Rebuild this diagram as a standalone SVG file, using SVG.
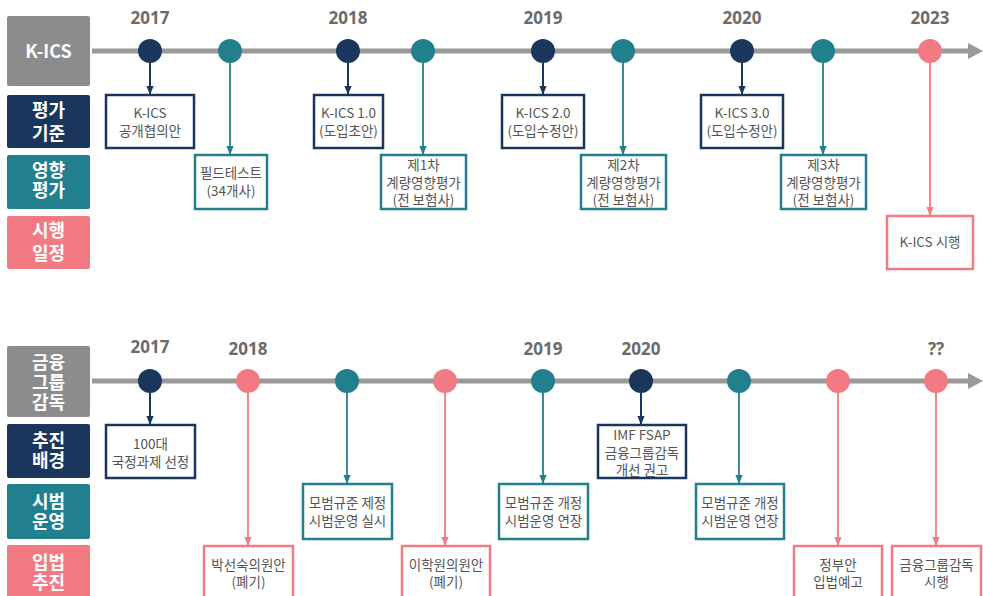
<svg xmlns="http://www.w3.org/2000/svg" width="983" height="596" viewBox="0 0 983 596">
<style>
.bg{fill:#ffffff}
.tl{stroke:#999999;stroke-width:5;fill:none}
.tlh{fill:#999999}
.lab{font-family:"Noto Sans CJK KR","Noto Sans",sans-serif;font-weight:bold;font-size:18px;fill:#ffffff;text-anchor:middle}
.yr{font-family:"Noto Sans","Noto Sans CJK KR",sans-serif;font-weight:bold;font-size:17px;fill:#6b6b6b;text-anchor:middle}
.bt{font-family:"Noto Sans CJK KR","Noto Sans",sans-serif;font-size:13.5px;fill:#555555;text-anchor:middle}
.gray{fill:#8c8c8c}
.nf{fill:#1b365d}.tf{fill:#217f8e}.pf{fill:#f27a82}
.nb{fill:#ffffff;stroke:#1b365d;stroke-width:2.5}
.tb{fill:#ffffff;stroke:#217f8e;stroke-width:2.5}
.pb{fill:#ffffff;stroke:#f27a82;stroke-width:2.5}
.nc{stroke:#1b365d;stroke-width:2;fill:none}
.tc{stroke:#217f8e;stroke-width:1.8;fill:none}
.pc{stroke:#f27a82;stroke-width:1.8;fill:none}
</style>
<defs>
<marker id="an" viewBox="0 0 10 10" refX="10" refY="5" markerWidth="9" markerHeight="9" markerUnits="userSpaceOnUse" orient="auto"><path d="M0,1 L10,5 L0,9 z" fill="#1b365d"/></marker>
<marker id="at" viewBox="0 0 10 10" refX="10" refY="5" markerWidth="9" markerHeight="9" markerUnits="userSpaceOnUse" orient="auto"><path d="M0,1 L10,5 L0,9 z" fill="#217f8e"/></marker>
<marker id="ap" viewBox="0 0 10 10" refX="10" refY="5" markerWidth="9" markerHeight="9" markerUnits="userSpaceOnUse" orient="auto"><path d="M0,1 L10,5 L0,9 z" fill="#f27a82"/></marker>
</defs>
<rect class="bg" x="0" y="0" width="983" height="596"/>

<!-- Row labels, top -->
<g id="label-kics"><rect class="gray" x="7" y="16" width="83" height="70" rx="2"/><text class="lab" x="48.5" y="57.5">K-ICS</text></g>
<g id="label-pg"><rect class="nf" x="7" y="95" width="83" height="53" rx="2"/><text class="lab"><tspan x="48.5" y="116.5">평가</tspan><tspan x="48.5" y="139.5">기준</tspan></text></g>
<g id="label-yh"><rect class="tf" x="7" y="155" width="83" height="54" rx="2"/><text class="lab"><tspan x="48.5" y="176.5">영향</tspan><tspan x="48.5" y="197">평가</tspan></text></g>
<g id="label-sh"><rect class="pf" x="7" y="216" width="83" height="53" rx="2"/><text class="lab"><tspan x="48.5" y="236.5">시행</tspan><tspan x="48.5" y="259.5">일정</tspan></text></g>

<!-- Row labels, bottom -->
<g id="label-fg"><rect class="gray" x="7" y="346" width="83" height="71" rx="2"/><text class="lab"><tspan x="48.5" y="368.5">금융</tspan><tspan x="48.5" y="388.5">그룹</tspan><tspan x="48.5" y="408.5">감독</tspan></text></g>
<g id="label-cj"><rect class="nf" x="7" y="424" width="83" height="54" rx="2"/><text class="lab"><tspan x="48.5" y="446.5">추진</tspan><tspan x="48.5" y="467">배경</tspan></text></g>
<g id="label-sb"><rect class="tf" x="7" y="484" width="83" height="55" rx="2"/><text class="lab"><tspan x="48.5" y="507.5">시범</tspan><tspan x="48.5" y="528">운영</tspan></text></g>
<g id="label-ib"><rect class="pf" x="7" y="545" width="83" height="60" rx="2"/><text class="lab"><tspan x="48.5" y="568.5">입법</tspan><tspan x="48.5" y="589">추진</tspan></text></g>

<!-- Timelines -->
<g id="timelines">
<line class="tl" x1="92" y1="51" x2="970" y2="51"/><path class="tlh" d="M968,43 L983,51 L968,59 z"/>
<line class="tl" x1="92" y1="381" x2="970" y2="381"/><path class="tlh" d="M968,373 L983,381 L968,389 z"/>
</g>

<!-- Years -->
<g id="years">
<text class="yr" x="150" y="24">2017</text>
<text class="yr" x="348" y="24">2018</text>
<text class="yr" x="543" y="24">2019</text>
<text class="yr" x="742" y="24">2020</text>
<text class="yr" x="930" y="24">2023</text>
<text class="yr" x="150" y="353">2017</text>
<text class="yr" x="248" y="355">2018</text>
<text class="yr" x="543" y="355">2019</text>
<text class="yr" x="641" y="355">2020</text>
<text class="yr" x="936" y="355">??</text>
</g>

<!-- Connectors -->
<g id="connectors">
<line class="nc" x1="150" y1="63" x2="150" y2="95" marker-end="url(#an)"/>
<line class="tc" x1="230" y1="63" x2="230" y2="155" marker-end="url(#at)"/>
<line class="nc" x1="348" y1="63" x2="348" y2="95" marker-end="url(#an)"/>
<line class="tc" x1="423" y1="63" x2="423" y2="155" marker-end="url(#at)"/>
<line class="nc" x1="543" y1="63" x2="543" y2="95" marker-end="url(#an)"/>
<line class="tc" x1="623" y1="63" x2="623" y2="155" marker-end="url(#at)"/>
<line class="nc" x1="742" y1="63" x2="742" y2="95" marker-end="url(#an)"/>
<line class="tc" x1="823" y1="63" x2="823" y2="155" marker-end="url(#at)"/>
<line class="pc" x1="930" y1="63" x2="930" y2="216" marker-end="url(#ap)"/>

<line class="nc" x1="150" y1="393" x2="150" y2="425" marker-end="url(#an)"/>
<line class="pc" x1="248" y1="393" x2="248" y2="546" marker-end="url(#ap)"/>
<line class="tc" x1="347" y1="393" x2="347" y2="484" marker-end="url(#at)"/>
<line class="pc" x1="445" y1="393" x2="445" y2="546" marker-end="url(#ap)"/>
<line class="tc" x1="543" y1="393" x2="543" y2="484" marker-end="url(#at)"/>
<line class="nc" x1="641" y1="393" x2="641" y2="425" marker-end="url(#an)"/>
<line class="tc" x1="739" y1="393" x2="739" y2="484" marker-end="url(#at)"/>
<line class="pc" x1="838" y1="393" x2="838" y2="546" marker-end="url(#ap)"/>
<line class="pc" x1="936" y1="393" x2="936" y2="546" marker-end="url(#ap)"/>
</g>

<!-- Top events -->
<g id="ev1"><circle class="nf" cx="150" cy="51" r="12"/><rect class="nb" x="106" y="95" width="88" height="53"/><text class="bt"><tspan x="150" y="118">K-ICS</tspan><tspan x="150" y="136">공개협의안</tspan></text></g>
<g id="ev2"><circle class="tf" cx="230" cy="51" r="12"/><rect class="tb" x="195" y="155" width="72" height="54"/><text class="bt"><tspan x="231" y="178">필드테스트</tspan><tspan x="231" y="196">(34개사)</tspan></text></g>
<g id="ev3"><circle class="nf" cx="348" cy="51" r="12"/><rect class="nb" x="314" y="95" width="69" height="53"/><text class="bt"><tspan x="348.5" y="118">K-ICS 1.0</tspan><tspan x="348.5" y="136">(도입초안)</tspan></text></g>
<g id="ev4"><circle class="tf" cx="423" cy="51" r="12"/><rect class="tb" x="381" y="155" width="85" height="54"/><text class="bt"><tspan x="423.5" y="170">제1차</tspan><tspan x="423.5" y="187.5">계량영향평가</tspan><tspan x="423.5" y="205">(전 보험사)</tspan></text></g>
<g id="ev5"><circle class="nf" cx="543" cy="51" r="12"/><rect class="nb" x="502" y="95" width="82" height="53"/><text class="bt"><tspan x="543" y="118">K-ICS 2.0</tspan><tspan x="543" y="136">(도입수정안)</tspan></text></g>
<g id="ev6"><circle class="tf" cx="623" cy="51" r="12"/><rect class="tb" x="581" y="155" width="85" height="54"/><text class="bt"><tspan x="623.5" y="170">제2차</tspan><tspan x="623.5" y="187.5">계량영향평가</tspan><tspan x="623.5" y="205">(전 보험사)</tspan></text></g>
<g id="ev7"><circle class="nf" cx="742" cy="51" r="12"/><rect class="nb" x="701" y="95" width="82" height="53"/><text class="bt"><tspan x="742" y="118">K-ICS 3.0</tspan><tspan x="742" y="136">(도입수정안)</tspan></text></g>
<g id="ev8"><circle class="tf" cx="823" cy="51" r="12"/><rect class="tb" x="781" y="155" width="85" height="54"/><text class="bt"><tspan x="823.5" y="170">제3차</tspan><tspan x="823.5" y="187.5">계량영향평가</tspan><tspan x="823.5" y="205">(전 보험사)</tspan></text></g>
<g id="ev9"><circle class="pf" cx="930" cy="51" r="12"/><rect class="pb" x="887" y="216" width="86" height="53"/><text class="bt" x="930" y="247">K-ICS 시행</text></g>

<!-- Bottom events -->
<g id="fg1"><circle class="nf" cx="150" cy="381" r="12"/><rect class="nb" x="106" y="425" width="89" height="53"/><text class="bt"><tspan x="150.5" y="449">100대</tspan><tspan x="150.5" y="467">국정과제 선정</tspan></text></g>
<g id="fg2"><circle class="pf" cx="248" cy="381" r="12"/><rect class="pb" x="204" y="546" width="89" height="60"/><text class="bt"><tspan x="248.5" y="570">박선숙의원안</tspan><tspan x="248.5" y="587">(폐기)</tspan></text></g>
<g id="fg3"><circle class="tf" cx="347" cy="381" r="12"/><rect class="tb" x="303" y="484" width="89" height="55"/><text class="bt"><tspan x="347.5" y="508">모범규준 제정</tspan><tspan x="347.5" y="526">시범운영 실시</tspan></text></g>
<g id="fg4"><circle class="pf" cx="445" cy="381" r="12"/><rect class="pb" x="402" y="546" width="88" height="60"/><text class="bt"><tspan x="446" y="570">이학원의원안</tspan><tspan x="446" y="587">(폐기)</tspan></text></g>
<g id="fg5"><circle class="tf" cx="543" cy="381" r="12"/><rect class="tb" x="499" y="484" width="89" height="55"/><text class="bt"><tspan x="543.5" y="508">모범규준 개정</tspan><tspan x="543.5" y="526">시범운영 연장</tspan></text></g>
<g id="fg6"><circle class="nf" cx="641" cy="381" r="12"/><rect class="nb" x="598" y="425" width="88" height="53"/><text class="bt"><tspan x="642" y="440">IMF FSAP</tspan><tspan x="642" y="457.5">금융그룹감독</tspan><tspan x="642" y="475">개선 권고</tspan></text></g>
<g id="fg7"><circle class="tf" cx="739" cy="381" r="12"/><rect class="tb" x="696" y="484" width="88" height="55"/><text class="bt"><tspan x="740" y="508">모범규준 개정</tspan><tspan x="740" y="526">시범운영 연장</tspan></text></g>
<g id="fg8"><circle class="pf" cx="838" cy="381" r="12"/><rect class="pb" x="794" y="546" width="88" height="60"/><text class="bt"><tspan x="838" y="570">정부안</tspan><tspan x="838" y="587">입법예고</tspan></text></g>
<g id="fg9"><circle class="pf" cx="936" cy="381" r="12"/><rect class="pb" x="892" y="546" width="89" height="60"/><text class="bt"><tspan x="936.5" y="570">금융그룹감독</tspan><tspan x="936.5" y="587">시행</tspan></text></g>
</svg>
